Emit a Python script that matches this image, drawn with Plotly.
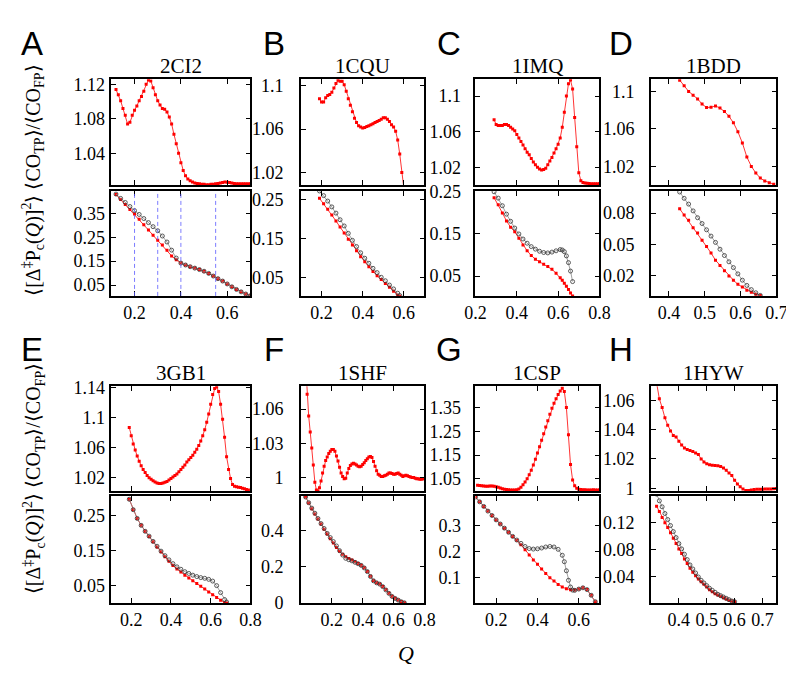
import plotly.graph_objects as go

# ---------------- DATA ----------------
names = ["2CI2", "1CQU", "1IMQ", "1BDD", "3GB1", "1SHF", "1CSP", "1HYW"]
letters = ["A", "B", "C", "D", "E", "F", "G", "H"]

# A : 2CI2
a_top_q = [0.12,0.13,0.14,0.15,0.16,0.17,0.18,0.19,0.20,0.21,0.22,0.23,0.24,0.25,0.26,0.27,0.28,0.29,0.30,0.31,0.32,0.33,0.34,0.35,0.36,0.37,0.38,0.39,0.40,0.41,0.42,0.43,0.44,0.45,0.46,0.47,0.48,0.49,0.50,0.51,0.52,0.53,0.54,0.55,0.56,0.57,0.58,0.59,0.60,0.61,0.62,0.63,0.64,0.65,0.66,0.67,0.68,0.69,0.70]
a_top_v = [1.114,1.108,1.101,1.092,1.084,1.074,1.076,1.084,1.090,1.095,1.101,1.106,1.112,1.120,1.125,1.124,1.116,1.108,1.101,1.096,1.092,1.091,1.088,1.082,1.074,1.062,1.051,1.040,1.029,1.020,1.014,1.010,1.008,1.0065,1.0055,1.005,1.0045,1.004,1.004,1.0035,1.0035,1.004,1.004,1.0045,1.005,1.0055,1.006,1.0065,1.0063,1.006,1.0055,1.005,1.0045,1.0045,1.0045,1.0045,1.0045,1.0045,1.0045]
a_bot_q = [0.12,0.14,0.16,0.18,0.20,0.22,0.24,0.26,0.28,0.30,0.32,0.34,0.36,0.38,0.40,0.42,0.44,0.46,0.48,0.50,0.52,0.54,0.56,0.58,0.60,0.62,0.64,0.66,0.68,0.70]
a_bot_black = [0.430,0.412,0.395,0.378,0.361,0.345,0.328,0.311,0.294,0.277,0.255,0.230,0.196,0.163,0.142,0.134,0.127,0.121,0.115,0.108,0.099,0.088,0.077,0.067,0.055,0.043,0.032,0.022,0.013,0.006]
a_bot_red = [0.428,0.407,0.386,0.366,0.347,0.325,0.302,0.280,0.258,0.237,0.218,0.196,0.172,0.156,0.142,0.134,0.127,0.121,0.115,0.108,0.099,0.088,0.077,0.067,0.055,0.043,0.032,0.022,0.013,0.006]
a_dashed_q = [0.2, 0.3, 0.4, 0.55]

# B : 1CQU
b_top_q = [0.19,0.20,0.21,0.22,0.23,0.24,0.25,0.26,0.27,0.28,0.29,0.30,0.31,0.32,0.33,0.34,0.35,0.36,0.37,0.38,0.39,0.40,0.41,0.42,0.43,0.44,0.45,0.46,0.47,0.48,0.49,0.50,0.51,0.52,0.53,0.54,0.55,0.56,0.57,0.58,0.59,0.60,0.61]
b_top_v = [1.088,1.085,1.085,1.089,1.091,1.092,1.094,1.098,1.102,1.105,1.104,1.104,1.101,1.095,1.088,1.082,1.076,1.070,1.066,1.063,1.062,1.061,1.0615,1.0625,1.063,1.064,1.065,1.066,1.067,1.068,1.069,1.0705,1.0705,1.069,1.067,1.064,1.062,1.058,1.050,1.037,1.020,1.005,0.990]
b_bot_q = [0.19,0.21,0.23,0.25,0.27,0.29,0.31,0.33,0.35,0.37,0.39,0.41,0.43,0.45,0.47,0.49,0.51,0.53,0.55,0.57,0.58]
b_bot_black = [0.273,0.261,0.247,0.232,0.216,0.199,0.183,0.164,0.146,0.130,0.114,0.100,0.087,0.074,0.063,0.051,0.042,0.031,0.021,0.010,0.004]
b_bot_red = [0.254,0.240,0.226,0.211,0.196,0.180,0.165,0.149,0.134,0.119,0.104,0.091,0.078,0.066,0.055,0.045,0.035,0.025,0.015,0.005,0.002]

# C : 1IMQ
c_top_q = [0.29,0.30,0.31,0.32,0.33,0.34,0.35,0.36,0.37,0.38,0.39,0.40,0.41,0.42,0.43,0.44,0.45,0.46,0.47,0.48,0.49,0.50,0.51,0.52,0.53,0.54,0.55,0.56,0.57,0.58,0.59,0.60,0.61,0.62,0.63,0.64,0.65,0.66,0.67,0.68,0.69,0.70,0.71,0.72,0.73,0.74,0.75,0.76,0.77,0.78,0.79,0.80]
c_top_v = [1.0735,1.068,1.067,1.067,1.067,1.068,1.068,1.067,1.065,1.063,1.061,1.057,1.053,1.049,1.045,1.041,1.037,1.034,1.030,1.026,1.023,1.020,1.018,1.017,1.0175,1.019,1.023,1.027,1.031,1.036,1.041,1.046,1.053,1.065,1.082,1.100,1.114,1.118,1.108,1.076,1.043,1.014,1.005,1.003,1.0025,1.002,1.0018,1.0015,1.0015,1.0015,1.0015,1.0015]
c_bot_q = [0.29,0.31,0.33,0.35,0.37,0.39,0.41,0.43,0.45,0.47,0.49,0.51,0.53,0.55,0.57,0.59,0.61,0.62,0.63,0.64,0.65,0.66,0.67]
c_bot_black = [0.250,0.235,0.217,0.197,0.180,0.164,0.150,0.138,0.128,0.120,0.114,0.109,0.106,0.105,0.107,0.110,0.113,0.112,0.108,0.098,0.082,0.062,0.037]
c_bot_red = [0.236,0.219,0.200,0.181,0.166,0.155,0.140,0.124,0.110,0.099,0.090,0.084,0.078,0.073,0.066,0.057,0.046,0.040,0.033,0.026,0.018,0.010,0.003]

# D : 1BDD
d_q = [0.43,0.4425,0.455,0.4675,0.48,0.4925,0.505,0.5175,0.53,0.5425,0.555,0.5675,0.58,0.5925,0.605,0.6175,0.63,0.6425,0.655,0.6675,0.68,0.6925]
d_top_v = [1.112,1.106,1.100,1.096,1.092,1.0865,1.0828,1.0830,1.0845,1.0822,1.0785,1.0735,1.0665,1.057,1.045,1.030,1.020,1.013,1.0075,1.0045,1.0025,1.001]
d_bot_q = [0.43,0.4425,0.455,0.4675,0.48,0.4925,0.505,0.5175,0.53,0.5425,0.555,0.5675,0.58,0.5925,0.605,0.6175,0.63,0.6425,0.655]
d_bot_black = [0.100,0.094,0.0885,0.082,0.0755,0.070,0.064,0.058,0.052,0.0455,0.0395,0.0335,0.028,0.022,0.016,0.011,0.007,0.004,0.0015]
d_bot_red = [0.084,0.078,0.073,0.066,0.061,0.054,0.048,0.042,0.035,0.030,0.025,0.020,0.016,0.012,0.0095,0.0065,0.0045,0.0025,0.0015]

# E : 3GB1
e_top_q = [0.19,0.20,0.21,0.22,0.23,0.24,0.25,0.26,0.27,0.28,0.29,0.30,0.31,0.32,0.33,0.34,0.35,0.36,0.37,0.38,0.39,0.40,0.41,0.42,0.43,0.44,0.45,0.46,0.47,0.48,0.49,0.50,0.51,0.52,0.53,0.54,0.55,0.56,0.57,0.58,0.59,0.60,0.61,0.62,0.63,0.64,0.65,0.66,0.67,0.68,0.69,0.70,0.71,0.72,0.73,0.74,0.75,0.76,0.77,0.78,0.79]
e_top_v = [1.087,1.076,1.065,1.057,1.049,1.042,1.036,1.031,1.027,1.023,1.020,1.018,1.016,1.0145,1.013,1.0125,1.0123,1.013,1.014,1.015,1.017,1.019,1.021,1.023,1.025,1.028,1.031,1.034,1.037,1.041,1.044,1.047,1.050,1.054,1.058,1.063,1.069,1.076,1.084,1.094,1.105,1.118,1.131,1.139,1.141,1.135,1.118,1.098,1.074,1.048,1.031,1.019,1.011,1.0088,1.008,1.0075,1.007,1.006,1.0055,1.0045,1.0036]
e_bot_q = [0.19,0.21,0.23,0.25,0.27,0.29,0.31,0.33,0.35,0.37,0.39,0.41,0.43,0.45,0.47,0.49,0.51,0.53,0.55,0.57,0.59,0.61,0.63,0.65,0.67,0.68]
e_bot_black = [0.298,0.268,0.243,0.223,0.206,0.192,0.177,0.163,0.149,0.136,0.124,0.113,0.104,0.097,0.090,0.085,0.080,0.076,0.073,0.071,0.068,0.063,0.050,0.030,0.010,0.003]
e_bot_red = [0.298,0.268,0.243,0.223,0.206,0.191,0.176,0.161,0.147,0.133,0.120,0.108,0.098,0.089,0.080,0.072,0.064,0.056,0.048,0.040,0.032,0.024,0.016,0.008,0.001,0.0]

# F : 1SHF
f_top_q = [0.03,0.04,0.05,0.06,0.07,0.08,0.09,0.10,0.11,0.12,0.13,0.14,0.15,0.16,0.17,0.18,0.19,0.20,0.21,0.22,0.23,0.24,0.25,0.26,0.27,0.28,0.29,0.30,0.31,0.32,0.33,0.34,0.35,0.36,0.37,0.38,0.39,0.40,0.41,0.42,0.43,0.44,0.45,0.46,0.47,0.48,0.49,0.50,0.51,0.52,0.53,0.54,0.55,0.56,0.57,0.58,0.59,0.60,0.61,0.62,0.63,0.64,0.65,0.66,0.67,0.68,0.69,0.70,0.71,0.72,0.73,0.74,0.75,0.76,0.77,0.78,0.79,0.80]
f_top_v = [1.100,1.073,1.054,1.040,1.026,1.011,0.996,0.989,0.988,0.991,0.997,1.004,1.010,1.015,1.018,1.021,1.023,1.0245,1.0245,1.023,1.019,1.0145,1.009,1.004,1.001,0.999,0.9995,1.004,1.008,1.0105,1.012,1.0125,1.012,1.011,1.010,1.0095,1.010,1.0115,1.013,1.015,1.0165,1.018,1.0185,1.0175,1.014,1.010,1.006,1.003,1.002,1.001,1.001,1.0015,1.002,1.003,1.004,1.004,1.0035,1.003,1.003,1.0035,1.004,1.003,1.002,1.001,1.0015,1.002,1.0015,1.001,1.0005,1.0,1.0,0.9995,0.999,0.999,0.9985,0.9985,0.999,0.999]
f_bot_q = [0.03,0.05,0.07,0.09,0.11,0.13,0.15,0.17,0.19,0.21,0.23,0.25,0.27,0.29,0.31,0.33,0.35,0.37,0.39,0.41,0.43,0.45,0.47,0.49,0.51,0.53,0.55,0.57,0.59,0.61,0.63,0.65,0.67]
f_bot_black = [0.583,0.552,0.522,0.494,0.465,0.437,0.410,0.383,0.360,0.338,0.314,0.288,0.264,0.246,0.238,0.232,0.224,0.216,0.207,0.193,0.173,0.146,0.122,0.111,0.104,0.090,0.072,0.053,0.036,0.025,0.016,0.007,0.001]
f_bot_red = [0.583,0.550,0.519,0.490,0.462,0.434,0.406,0.379,0.354,0.330,0.306,0.285,0.268,0.255,0.245,0.236,0.227,0.218,0.208,0.194,0.174,0.147,0.123,0.112,0.105,0.091,0.073,0.054,0.037,0.026,0.017,0.008,0.002]

# G : 1CSP
g_top_q = [0.11,0.12,0.13,0.14,0.15,0.16,0.17,0.18,0.19,0.20,0.21,0.22,0.23,0.24,0.25,0.26,0.27,0.28,0.29,0.30,0.31,0.32,0.33,0.34,0.35,0.36,0.37,0.38,0.39,0.40,0.41,0.42,0.43,0.44,0.45,0.46,0.47,0.48,0.49,0.50,0.51,0.52,0.53,0.54,0.55,0.56,0.57,0.58,0.59,0.60,0.61,0.62,0.63,0.64,0.65,0.66,0.67,0.68,0.69,0.70]
g_top_v = [1.022,1.021,1.020,1.019,1.018,1.018,1.019,1.019,1.018,1.016,1.014,1.011,1.008,1.006,1.004,1.003,1.002,1.002,1.002,1.003,1.007,1.014,1.024,1.036,1.050,1.067,1.086,1.108,1.132,1.158,1.185,1.212,1.240,1.268,1.295,1.322,1.347,1.368,1.387,1.405,1.420,1.432,1.418,1.350,1.235,1.110,1.045,1.020,1.010,1.006,1.004,1.003,1.003,1.002,1.002,1.002,1.003,1.002,1.002,1.002]
g_bot_black_q = [0.10,0.12,0.14,0.16,0.18,0.20,0.22,0.24,0.26,0.28,0.30,0.32,0.34,0.36,0.38,0.40,0.42,0.44,0.46,0.48,0.50,0.52,0.53,0.54,0.55,0.56,0.57,0.58,0.60,0.62,0.64,0.66,0.68]
g_bot_black = [0.410,0.392,0.374,0.356,0.339,0.322,0.306,0.290,0.274,0.258,0.244,0.231,0.219,0.211,0.209,0.210,0.213,0.217,0.219,0.217,0.208,0.185,0.160,0.125,0.088,0.062,0.050,0.049,0.054,0.059,0.052,0.030,0.005]
g_bot_red_q = [0.10,0.12,0.14,0.16,0.18,0.20,0.22,0.24,0.26,0.28,0.30,0.32,0.34,0.36,0.38,0.40,0.42,0.44,0.46,0.48,0.50,0.52,0.54,0.56,0.58,0.60,0.62,0.64,0.66,0.68]
g_bot_red = [0.410,0.392,0.374,0.356,0.339,0.322,0.306,0.290,0.274,0.258,0.243,0.226,0.206,0.186,0.167,0.150,0.132,0.114,0.098,0.085,0.072,0.062,0.055,0.051,0.050,0.054,0.059,0.052,0.030,0.005]

# H : 1HYW
h_top_q = [0.32,0.33,0.34,0.35,0.36,0.37,0.38,0.39,0.40,0.41,0.42,0.43,0.44,0.45,0.46,0.47,0.48,0.49,0.50,0.51,0.52,0.53,0.54,0.55,0.56,0.57,0.58,0.59,0.60,0.61,0.62,0.63,0.64,0.65,0.66,0.67,0.68,0.69,0.70,0.71,0.72,0.73,0.74,0.75]
h_top_v = [1.072,1.061,1.055,1.048,1.043,1.039,1.036,1.035,1.032,1.0295,1.0275,1.0265,1.0258,1.025,1.024,1.023,1.020,1.018,1.0167,1.016,1.0158,1.0156,1.0154,1.0148,1.0138,1.0123,1.0105,1.0087,1.0055,1.003,1.001,0.9995,0.9986,0.9986,0.9989,0.9992,0.9993,0.9994,0.9994,0.9995,0.9995,0.9996,0.9997,0.9998]
h_bot_q = [0.32,0.33,0.34,0.35,0.36,0.37,0.38,0.39,0.40,0.41,0.42,0.43,0.44,0.45,0.46,0.47,0.48,0.49,0.50,0.51,0.52,0.53,0.54,0.55,0.56,0.57,0.58,0.59,0.60]
h_bot_black = [0.163,0.153,0.144,0.134,0.125,0.116,0.107,0.098,0.089,0.081,0.073,0.065,0.057,0.051,0.045,0.039,0.034,0.030,0.026,0.022,0.019,0.016,0.013,0.011,0.009,0.007,0.005,0.003,0.002]
h_bot_red = [0.145,0.137,0.128,0.120,0.113,0.105,0.097,0.089,0.081,0.074,0.066,0.059,0.052,0.046,0.041,0.036,0.032,0.028,0.024,0.020,0.017,0.014,0.012,0.010,0.008,0.006,0.004,0.003,0.002]

# tick values / labels
x_ticks = [[0.2,0.4,0.6],[0.2,0.4,0.6],[0.2,0.4,0.6,0.8],[0.4,0.5,0.6,0.7],
           [0.2,0.4,0.6,0.8],[0.2,0.4,0.6,0.8],[0.2,0.4,0.6],[0.4,0.5,0.6,0.7]]
top_ticks = [[1.04,1.08,1.12],[1.02,1.06,1.1],[1.02,1.06,1.1],[1.02,1.06,1.1],
             [1.02,1.06,1.1,1.14],[1,1.03,1.06],[1.05,1.15,1.25,1.35],[1,1.02,1.04,1.06]]
bot_ticks = [[0.05,0.15,0.25,0.35],[0.05,0.15,0.25],[0.05,0.15,0.25],[0.02,0.05,0.08],
             [0.05,0.15,0.25],[0,0.2,0.4],[0.1,0.2,0.3],[0.04,0.08,0.12]]

# axis ranges
x_ranges = [[0.1,0.7],[0.1,0.7],[0.2,0.8],[0.35,0.70],[0.1,0.8],[0.0,0.8],[0.1,0.7],[0.3,0.75]]
top_ranges = [[1.003,1.126],[1.0084,1.106],[1.0,1.119],[1.0,1.113],[1.002,1.142],[0.988,1.08],[0.997,1.44],[0.998,1.0695]]
bot_ranges = [[0.005,0.443],[0.003,0.273],[0.003,0.252],[0.001,0.101],[0.0,0.307],[0.0,0.588],[0.0,0.414],[0.0,0.16]]

top_series = [(a_top_q,a_top_v),(b_top_q,b_top_v),(c_top_q,c_top_v),(d_q,d_top_v),
              (e_top_q,e_top_v),(f_top_q,f_top_v),(g_top_q,g_top_v),(h_top_q,h_top_v)]
bot_series = [(a_bot_q,a_bot_black,a_bot_q,a_bot_red),(b_bot_q,b_bot_black,b_bot_q,b_bot_red),
              (c_bot_q,c_bot_black,c_bot_q,c_bot_red),(d_bot_q,d_bot_black,d_bot_q,d_bot_red),
              (e_bot_q,e_bot_black,e_bot_q,e_bot_red),(f_bot_q,f_bot_black,f_bot_q,f_bot_red),
              (g_bot_black_q,g_bot_black,g_bot_red_q,g_bot_red),(h_bot_q,h_bot_black,h_bot_q,h_bot_red)]

# ---------------- LAYOUT ----------------
W, H = 794, 675
col_px = [(95, 238), (290, 417), (469.5, 597), (650, 779)]
row_px = [((64, 173), (179, 287)), ((380, 488), (493, 603))]
label_standoff = [1, 12, 9, 11]

def xd(a, b):
    return [a / W, b / W]

def yd(a, b):
    return [1 - b / H, 1 - a / H]

SERIF = "Liberation Serif"
SANS = "Liberation Sans"
RED = "#ff0000"

fig = go.Figure()
layout = dict(width=W, height=H, margin=dict(l=0, r=0, t=0, b=0),
              plot_bgcolor="white", paper_bgcolor="white", showlegend=False,
              font=dict(family=SERIF, size=18, color="black"))
annotations = []
shapes = []

def fmt(v):
    return "%g" % v

for i in range(8):
    col = i % 4
    row = i // 4
    xa, xb = col_px[col]
    (ta, tb), (ba, bb) = row_px[row]
    n_top = 2 * i + 1
    n_bot = 2 * i + 2
    for n, (pa, pb), yr, yt, is_bot in [(n_top, (ta, tb), top_ranges[i], top_ticks[i], False),
                                        (n_bot, (ba, bb), bot_ranges[i], bot_ticks[i], True)]:
        common = dict(showline=True, linecolor="black", linewidth=1.6, mirror="allticks",
                      ticks="inside", ticklen=5, tickwidth=1, tickcolor="black",
                      showgrid=False, zeroline=False)
        layout["xaxis%d" % n] = dict(domain=xd(xa, xb), anchor="y%d" % n, range=x_ranges[i],
                                     tickvals=x_ticks[i], ticktext=[fmt(v) for v in x_ticks[i]],
                                     showticklabels=is_bot, tickfont=dict(family=SERIF, size=18),
                                     **common)
        layout["yaxis%d" % n] = dict(domain=yd(pa, pb), anchor="x%d" % n, range=yr,
                                     tickvals=yt, ticktext=[fmt(v) for v in yt],
                                     tickfont=dict(family=SERIF, size=18),
                                     ticklabelstandoff=label_standoff[col], **common)
    # top: ratio
    q, v = top_series[i]
    fig.add_trace(go.Scatter(x=q, y=v, mode="lines+markers", xaxis="x%d" % n_top, yaxis="y%d" % n_top,
                             line=dict(color=RED, width=0.8),
                             marker=dict(color=RED, size=3, symbol="square")))
    # bottom
    qb, vb, qr, vr = bot_series[i]
    fig.add_trace(go.Scatter(x=qr, y=vr, mode="lines+markers", xaxis="x%d" % n_bot, yaxis="y%d" % n_bot,
                             line=dict(color=RED, width=0.8),
                             marker=dict(color=RED, size=3, symbol="square")))
    fig.add_trace(go.Scatter(x=qb, y=vb, mode="lines+markers", xaxis="x%d" % n_bot, yaxis="y%d" % n_bot,
                             line=dict(color="#888888", width=0.8),
                             marker=dict(color="#333333", size=4, symbol="circle-open",
                                         line=dict(color="#333333", width=0.8))))
    # title
    top_y = row_px[row][0][0]
    annotations.append(dict(text=names[i], x=(xa + xb) / 2 / W, y=1 - (top_y - 14) / H,
                            xref="paper", yref="paper", showarrow=False,
                            font=dict(family=SERIF, size=21), xanchor="center", yanchor="middle"))
    # panel letter
    letter_x = [13, 262, 442, 619][col]
    letter_y = [27, 342][row]
    annotations.append(dict(text=letters[i], x=letter_x / W, y=1 - letter_y / H,
                            xref="paper", yref="paper", showarrow=False,
                            font=dict(family=SANS, size=33), xanchor="center", yanchor="middle"))

# dashed lines in A bottom
for q in a_dashed_q:
    shapes.append(dict(type="line", xref="x2", yref="y2 domain", x0=q, x1=q, y0=0, y1=1,
                       line=dict(color="#5a5aff", width=0.8, dash="4px,3px")))

ylab = "⟨[Δ<sup>‡</sup>P<sub>c</sub>(<i>Q</i>)]<sup>2</sup>⟩ ⟨CO<sub>TP</sub>⟩/⟨CO<sub>FP</sub>⟩"
for cy in [168, 475]:
    annotations.append(dict(text=ylab, x=15 / W, y=1 - cy / H, xref="paper", yref="paper",
                            showarrow=False, textangle=-90, font=dict(family=SERIF, size=20),
                            xanchor="center", yanchor="middle"))

annotations.append(dict(text="<i>Q</i>", x=398 / W, y=1 - 655 / H, xref="paper", yref="paper",
                        showarrow=False, font=dict(family=SERIF, size=22),
                        xanchor="center", yanchor="middle"))

layout["annotations"] = annotations
layout["shapes"] = shapes
fig.update_layout(**layout)
fig.write_html("out.html")
